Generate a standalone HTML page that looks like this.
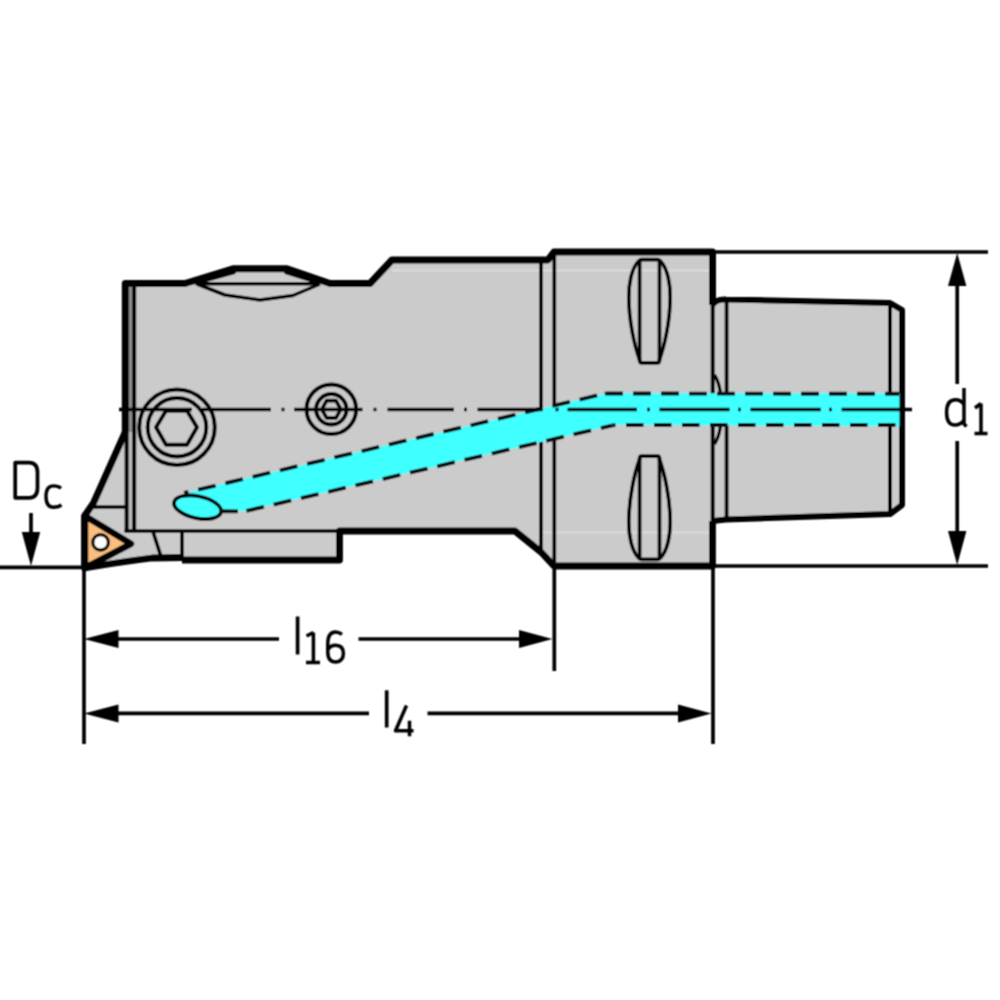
<!DOCTYPE html>
<html><head><meta charset="utf-8"><title>Tool holder drawing</title>
<style>
html,body{margin:0;padding:0;background:#fff;width:1000px;height:1000px;overflow:hidden;font-family:"Liberation Sans",sans-serif;}
svg{display:block;}
</style></head>
<body>
<svg width="1000" height="1000" viewBox="0 0 1000 1000" stroke-linecap="butt" stroke-linejoin="round">
<rect x="0" y="0" width="1000" height="1000" fill="#fff"/>
<defs><filter id="bl" x="0" y="0" width="1000" height="1000" filterUnits="userSpaceOnUse"><feConvolveMatrix order="3" kernelMatrix="1 2 1 2 4 2 1 2 1" divisor="16" edgeMode="duplicate" preserveAlpha="false"/></filter></defs>
<g filter="url(#bl)">

<!-- silhouette fill -->
<path d="M125,283.5 L185,283.5 L233,268.8 L287,268.8 L330,283.5 L370,283.5 L392,260 L548,260 L554,252 L712.5,252 L712.5,305 Q716,299 726,299.5 L890,303 L902,310 L902,505 L890,514 L726,519.5 L712.5,521 L712.5,566 L554,566 L541,552 L515,531 L339.5,531 L339.5,560 L182,560 L182,557.5 L152,558 Q120,562 84,568 L84,516 L93.5,503 L125,432 Z" fill="#cbcbcb" stroke="none"/>

<!-- highlight lines -->
<line x1="392" y1="270.5" x2="712" y2="270.5" stroke="#dcdcdc" stroke-width="2"/>
<line x1="541" y1="532.5" x2="712" y2="532.5" stroke="#dcdcdc" stroke-width="2"/>

<!-- strips left -->
<rect x="128.5" y="286" width="4" height="146" fill="#8a8a8a"/>
<rect x="128" y="432" width="4.5" height="99" fill="#b8b8b8"/>

<g fill="none" stroke="#000">
<!-- thick outline -->
<path d="M125.3,432 L125.3,283.5 L185,283.5 L233,268.8 L287,268.8 L330,283.5 L370,283.5 L392,260 L548,260 L554,252 L712.5,252 L712.5,305" stroke-width="7"/>
<path d="M712.5,305 Q716,299 726,299.5 L890,303 L902,310 L902,505 L890,514 L726,519.5 L712.5,521" stroke-width="6"/>
<path d="M712.5,521 L712.5,566 L554,566 L541,552 L515,531 L339.5,531 L339.5,560 L182,560" stroke-width="6.8"/>
<path d="M182,557.5 L152,558 Q120,562 84.5,568 L84.5,516 L93.5,503 L125.3,432" stroke-width="6.8"/>

<!-- bump inner lines -->
<path d="M196,283.7 L320,283.7" stroke-width="3.5"/>
<path d="M197,284 L225,295 L260,300 L293,295.5 L320,284" stroke-width="3.5"/>
<path d="M196,283 L234,272.5 M286,272.5 L318,282.5" stroke-width="3.5" stroke-linecap="round"/>

<!-- body inner vertical lines -->
<line x1="126.6" y1="432" x2="126.6" y2="531" stroke-width="4"/>
<line x1="134.2" y1="283" x2="134.2" y2="531" stroke-width="4"/>
<line x1="124.5" y1="531" x2="340" y2="531" stroke-width="3.7"/>
<line x1="541" y1="260" x2="541" y2="552" stroke-width="3.7"/>
<line x1="554.3" y1="252" x2="554.3" y2="566" stroke-width="3.7"/>
<line x1="712.7" y1="305" x2="712.7" y2="521" stroke-width="4"/>
<line x1="726.6" y1="300" x2="726.6" y2="519" stroke-width="3.8"/>
<line x1="890" y1="303" x2="890" y2="514" stroke-width="3.8"/>

<!-- insert holder details -->
<line x1="92" y1="507" x2="127" y2="507" stroke-width="3.7"/>
<line x1="152.8" y1="531" x2="160.8" y2="556" stroke-width="3.7"/>
<line x1="182" y1="531" x2="182" y2="560" stroke-width="3.7"/>

<!-- flange slots -->
<g id="slot">
<path d="M641.5,259.6 L657.5,259.6 Q659.5,259.6 659.5,262 L659.5,360.5 Q659.5,362.8 657.5,362.8 L641.5,362.8 Q639.6,362.8 639.6,360.5 L639.6,262 Q639.6,259.6 641.5,259.6 Z" stroke-width="3.7"/>
<path d="M639.6,260 C631,268 628.6,285 628.8,298 C629,320 634,345 640,361" stroke-width="3.7"/>
<path d="M659.5,260 C668,268 670.4,285 670.2,298 C670,320 665,345 659,361" stroke-width="3.7"/>
</g>
<use href="#slot" transform="translate(0,819) scale(1,-1)"/>
<!-- small arcs near shank -->
<path d="M714.5,375 Q719,382 720.5,393" stroke-width="3.3"/>
<path d="M714.5,444 Q719,437 720.5,426" stroke-width="3.3"/>

<!-- big screw -->
<circle cx="177" cy="427.3" r="37.8" stroke-width="4"/>
<circle cx="177" cy="427.3" r="29.3" stroke-width="4"/>
<polygon points="156,427.2 166,410.7 187,410.7 197,427.2 187,444.8 166,444.8" stroke-width="4"/>
<!-- small screw -->
<circle cx="331.3" cy="409.3" r="24.8" stroke-width="4"/>
<circle cx="331.3" cy="409.3" r="15.2" stroke-width="4"/>
<polygon points="321.8,409.3 326.6,400.7 336,400.7 340.8,409.3 336,417.9 326.6,417.9" stroke-width="3.7"/>
</g>

<!-- coolant channel -->
<path d="M184,493 L603,394 Q606,393.3 610,393.3 L899.5,393.3 L899.5,426.3 L620,425 Q615,425 612.7,425.3 L246.4,510.9 L221,511.2 Z" fill="#40ffff"/>
<ellipse cx="197.6" cy="507.2" rx="24" ry="11" transform="rotate(12 197.6 507.2)" fill="#40ffff" stroke="#000" stroke-width="3.7"/>
<g fill="none" stroke="#111" stroke-width="3.9">
<path d="M184,493 L603,394" stroke-dasharray="18 10" stroke-dashoffset="-14.5"/>
<path d="M603,394 Q606,393.3 610,393.5 L899,393.8" stroke-dasharray="18 10" stroke-dashoffset="26"/>
<path d="M221,511.2 L238,511.4"/>
<path d="M246.4,510.9 L612.7,425.3" stroke-dasharray="18 10"/>
<path d="M612.7,425.3 Q615,425 620,425 L899,425" stroke-dasharray="17.5 10.5" stroke-dashoffset="14.7"/>
</g>

<!-- insert -->
<path d="M85,516 L131,543.8 L85,568 Z" fill="#fbbe7e" stroke="#000" stroke-width="6.5" stroke-linejoin="round"/>
<circle cx="100.6" cy="542.4" r="7.8" fill="#fff" stroke="#000" stroke-width="3.2"/>

<!-- centre line -->
<g stroke="#000" stroke-width="3.7" fill="none">
<path d="M119,409.5 H192 M202,409.5 H271 M281.5,409.5 H284.5 M294,409.5 H362.5 M373.5,409.5 H376.5 M387.5,409.5 H454 M464,409.5 H467 M477.5,409.5 H542.5 M555.5,409.5 H558.5 M567.5,409.5 H637 M647,409.5 H650 M659.5,409.5 H729.6 M738,409.5 H741 M750.4,409.5 H820.8 M829,409.5 H832 M841.6,409.5 H912"/>
</g>

<!-- dimension lines -->
<g stroke="#000" stroke-width="3.7" fill="none">
<line x1="0" y1="567.3" x2="84" y2="567.3"/>
<line x1="84" y1="568" x2="84" y2="744"/>
<line x1="554.3" y1="566" x2="554.3" y2="671"/>
<line x1="713" y1="566" x2="713" y2="744"/>
<line x1="712" y1="252" x2="988" y2="252"/>
<line x1="712" y1="566" x2="988" y2="566"/>
<!-- Dc arrow -->
<line x1="31" y1="513" x2="31" y2="535"/>
<!-- d1 -->
<line x1="957.2" y1="280" x2="957.2" y2="384"/>
<line x1="957.2" y1="441" x2="957.2" y2="535"/>
<!-- l16 -->
<line x1="110" y1="639" x2="279" y2="639"/>
<line x1="358.5" y1="639" x2="525" y2="639"/>
<!-- l4 -->
<line x1="110" y1="713.4" x2="369" y2="713.4"/>
<line x1="427.5" y1="713.4" x2="685" y2="713.4"/>
</g>
<g fill="#000" stroke="none">
<polygon points="31,566 21.8,532 40.2,532"/>
<polygon points="957.2,253 948,286 966.4,286"/>
<polygon points="957.2,565 948,531 966.4,531"/>
<polygon points="84,639 118.5,630 118.5,648"/>
<polygon points="552.5,639 519,630 519,648"/>
<polygon points="84,713.4 118.5,704.4 118.5,722.4"/>
<polygon points="711.5,713.4 678,704.4 678,722.4"/>
</g>

<!-- text glyphs -->
<g fill="none" stroke="#000" stroke-width="3.7" stroke-linecap="butt" stroke-linejoin="round">
<path d="M15.2,462.6 L29,462.6 C34.5,462.6 37.5,466 37.5,472.5 L37.5,488 C37.5,494.5 34.5,497.8 29,497.8 L15.2,497.8 Z"/>
<path d="M61,488.3 C59,486.5 56,485.9 53.5,485.9 C48.5,485.9 46,489.5 46,496.6 C46,503.6 48.5,507.3 53.5,507.3 C56,507.3 59,506.8 61.5,505" stroke-width="3.4"/>
<path d="M964,388 L964,424 L966.5,426.5" stroke-width="3.5"/>
<path d="M964,404.5 C961.5,401 958.5,399.8 955.5,399.8 C949.8,399.8 946.6,404.2 946.6,412.5 C946.6,420.8 949.8,425 955,425 C958.5,425 961.5,423.4 964,420.5" stroke-width="3.5"/>
<path d="M981,403.5 L981,433.5 M974.5,433.5 L987.5,433.5 M975,408 L981,403.5" stroke-width="3.5"/>
<path d="M297.6,616.5 L297.6,654.5" stroke-width="3.7"/>
<path d="M313.4,632.5 L313.4,662.5 M306,662.5 L320,662.5 M306.5,636 L313.4,632.5" stroke-width="3.5"/>
<path d="M342,634.3 C339.5,632.5 337.5,632 335.5,632 C330.3,632 327.8,636.3 327.8,644 L327.8,652 C327.8,658.8 330.6,662 335.6,662 C340.6,662 343.4,658.6 343.4,653.6 C343.4,648.3 340.6,645.2 335.6,645.2 C331.6,645.2 329.2,647 327.8,650" stroke-width="3.5"/>
<path d="M386.7,690.3 L386.7,727.5" stroke-width="3.7"/>
<path d="M406.5,705.5 L395.5,730.8 L413.5,730.8 M409.5,720.8 L409.5,736.3" stroke-width="3.5"/>
</g>
</g>
</svg>
</body></html>
